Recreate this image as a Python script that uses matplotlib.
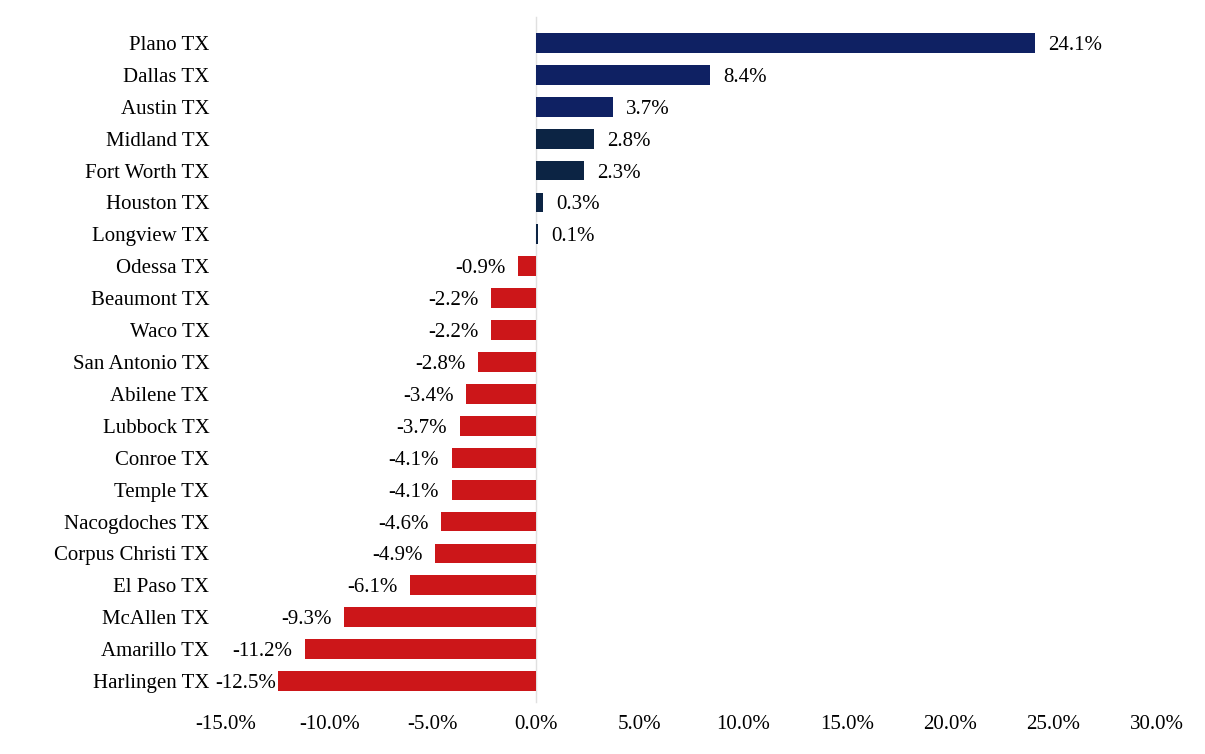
import matplotlib.pyplot as plt
from matplotlib.ticker import FuncFormatter

plt.rcParams['font.family'] = ['Liberation Serif', 'DejaVu Serif']

# Data (top to bottom as in the chart)
cities = ['Plano TX', 'Dallas TX', 'Austin TX', 'Midland TX', 'Fort Worth TX',
          'Houston TX', 'Longview TX', 'Odessa TX', 'Beaumont TX', 'Waco TX',
          'San Antonio TX', 'Abilene TX', 'Lubbock TX', 'Conroe TX', 'Temple TX',
          'Nacogdoches TX', 'Corpus Christi TX', 'El Paso TX', 'McAllen TX',
          'Amarillo TX', 'Harlingen TX']
changes = [24.1, 8.4, 3.7, 2.8, 2.3, 0.3, 0.1, -0.9, -2.2, -2.2, -2.8, -3.4,
           -3.7, -4.1, -4.1, -4.6, -4.9, -6.1, -9.3, -11.2, -12.5]
dark_group = ['Midland TX', 'Fort Worth TX', 'Houston TX', 'Longview TX']

colors = []
for c, v in zip(cities, changes):
    if v < 0:
        colors.append('#cc1619')
    elif c in dark_group:
        colors.append('#0c2444')
    else:
        colors.append('#0f2163')

fig = plt.figure(figsize=(12.05, 7.54), dpi=100)
ax = fig.add_axes([0.1876, 0.0756, 0.7726, 0.8886])

ypos = list(range(len(cities)))
ax.barh(ypos, changes, height=0.62, color=colors, zorder=3)
ax.set_ylim(len(cities) - 0.5, -0.5)
ax.set_xlim(-15, 30)
ax.set_xticks(range(-15, 31, 5))
ax.xaxis.set_major_formatter(FuncFormatter(lambda v, p: f'{v:.1f}%'))
ax.set_yticks(ypos)
ax.set_yticklabels(cities, va='center_baseline')
ax.tick_params(axis='both', length=0, labelsize=15, colors='black')
ax.tick_params(axis='y', pad=12)
ax.tick_params(axis='x', pad=13)

for s in ['top', 'right', 'bottom', 'left']:
    ax.spines[s].set_visible(False)
ax.plot([0, 0], [-0.8, len(cities) - 0.35], color='#e0e0e0', linewidth=1,
        zorder=2, clip_on=False)

# Value labels
for y, v in zip(ypos, changes):
    if v >= 0:
        ax.annotate(f'{v:.1f}%', (v, y), xytext=(9.5, 0), textcoords='offset points',
                    ha='left', va='center_baseline', fontsize=15)
    else:
        # the longest bar's label is pushed closer to the bar end
        off = -1 if v < -12 else -9
        ax.annotate(f'{v:.1f}%', (v, y), xytext=(off, 0), textcoords='offset points',
                    ha='right', va='center_baseline', fontsize=15)

plt.savefig('out.png', dpi=100)
